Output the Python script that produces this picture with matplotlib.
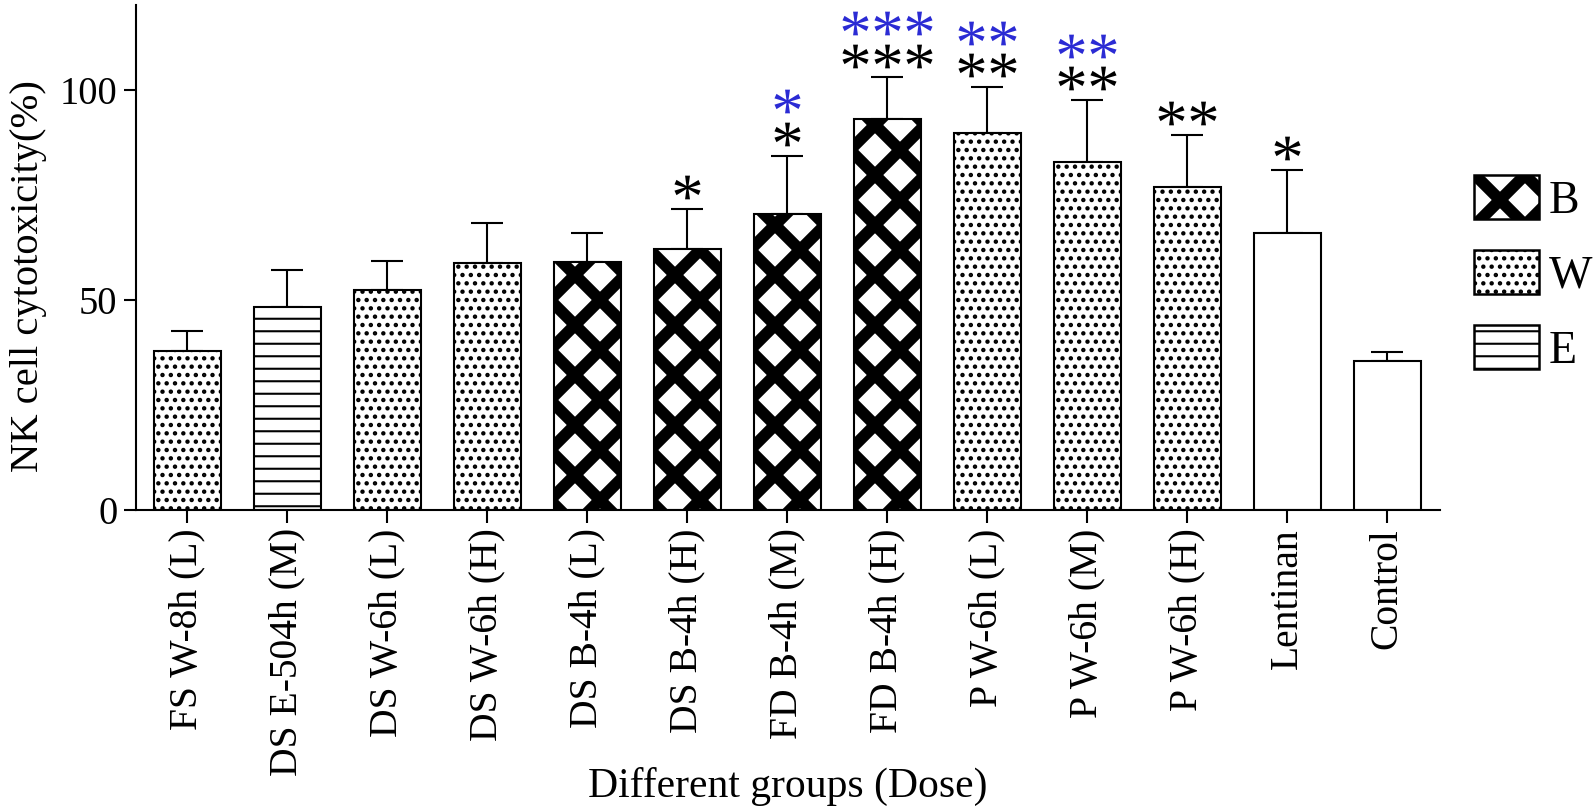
import numpy as np
import matplotlib
matplotlib.use("Agg")
import matplotlib.pyplot as plt
from matplotlib.patches import Patch
from matplotlib.textpath import TextPath
from matplotlib.font_manager import FontProperties
from matplotlib.path import Path

# ---------------- data ----------------
groups = ["FS W-8h (L)", "DS E-504h (M)", "DS W-6h (L)", "DS W-6h (H)",
          "DS B-4h (L)", "DS B-4h (H)", "FD B-4h (M)", "FD B-4h (H)",
          "P W-6h (L)", "P W-6h (M)", "P W-6h (H)", "Lentinan", "Control"]
kinds = ["W", "E", "W", "W", "B", "B", "B", "B", "W", "W", "W", "N", "N"]
means = [37.9, 48.4, 52.4, 58.8, 59.1, 62.1, 70.5, 93.2, 89.8, 83.0, 76.9, 66.1, 35.5]
sds = [4.7, 8.8, 6.9, 9.6, 7.0, 9.6, 13.9, 9.9, 11.0, 14.7, 12.5, 14.9, 2.2]
black_stars = [0, 0, 0, 0, 0, 1, 1, 3, 2, 2, 2, 1, 0]
blue_stars = [0, 0, 0, 0, 0, 0, 1, 3, 2, 2, 0, 0, 0]
legend_labels = ["B", "W", "E"]
yticks = [0, 50, 100]

# ---------------- style ----------------
plt.rcParams["font.family"] = ["Liberation Serif", "DejaVu Serif"]
plt.rcParams["hatch.color"] = "black"
DPI = 150
hatch_style = {"B": ("x", 5.6), "W": ("...", 1.3), "E": ("--", 1.0), "N": ("", 1.0)}
BLUE = "#2b2bd4"

def set_hlw(p, lw):
    if hasattr(p, "set_hatch_linewidth"):
        p.set_hatch_linewidth(lw)

fig = plt.figure(figsize=(1595 / DPI, 811 / DPI), dpi=DPI)
ax = fig.add_axes([136 / 1595, (811 - 509.5) / 811, (1440 - 136) / 1595, (509.5 - 5) / 811])

x = np.arange(len(groups))
ax.errorbar(x, means, yerr=[np.zeros(len(sds)), sds], fmt="none", ecolor="black",
            elinewidth=1.0, capsize=7.9, capthick=1.0, zorder=1)
bars = ax.bar(x, means, width=0.67, color="white", edgecolor="black", linewidth=1.0, zorder=2)
for b, k in zip(bars, kinds):
    h, lw = hatch_style[k]
    b.set_hatch(h)
    set_hlw(b, lw)

# significance stars (Times-like asterisk glyph used as a marker)
fp = FontProperties(family="Liberation Serif")
tp = TextPath((0, 0), "*", size=1, prop=fp)
verts = np.array(tp.vertices, dtype=float)
codes = np.array(tp.codes)
start = verts[0].copy()
for j, c in enumerate(codes):
    if c == Path.MOVETO:
        start = verts[j].copy()
    elif c == Path.CLOSEPOLY:
        verts[j] = start
cx = (verts[:, 0].min() + verts[:, 0].max()) / 2
cy = (verts[:, 1].min() + verts[:, 1].max()) / 2
star = Path(verts - [cx, cy], codes)

gap1, gap2, step = 5.2, 7.8, 0.32
for i in range(len(groups)):
    top = means[i] + sds[i]
    for n, col, g in ((black_stars[i], "black", gap1), (blue_stars[i], BLUE, gap1 + gap2)):
        if n:
            xs = i + (np.arange(n) - (n - 1) / 2) * step
            ax.plot(xs, np.full(n, top + g), linestyle="none", marker=star,
                    markersize=12.5, color=col, markeredgewidth=0, zorder=3, clip_on=False)

ax.set_xlim(-0.51, 12.53)
ax.set_ylim(0, 120.4)
ax.set_yticks(yticks)
ax.set_xticks(x)
ax.set_xticklabels(groups, rotation=90)
for s in ("top", "right"):
    ax.spines[s].set_visible(False)
for s in ("left", "bottom"):
    ax.spines[s].set_linewidth(1.0)
ax.tick_params(axis="both", direction="out", length=6, width=1.0, pad=3)
ax.tick_params(axis="x", labelsize=19)
ax.tick_params(axis="y", labelsize=18.5)
ax.set_ylabel("NK cell cytotoxicity(%)", fontsize=19.5)
ax.set_xlabel("Different groups (Dose)", fontsize=20)
ax.yaxis.set_label_coords(-0.068, 0.463)
ax.xaxis.set_label_coords(0.5, -0.51)

handles = []
for k in legend_labels:
    h, lw = hatch_style[k]
    p = Patch(facecolor="white", edgecolor="black", hatch=h, linewidth=1.2)
    set_hlw(p, lw)
    handles.append(p)
leg = fig.legend(handles, legend_labels, loc="upper left", bbox_to_anchor=(1433 / 1595, 1 - 134 / 811),
                 frameon=False, fontsize=22, handlelength=1.42, handleheight=1.09,
                 labelspacing=0.6, handletextpad=0.2)
for lh, k in zip(leg.legend_handles, legend_labels):
    set_hlw(lh, hatch_style[k][1])

fig.savefig("out.png", dpi=DPI)
